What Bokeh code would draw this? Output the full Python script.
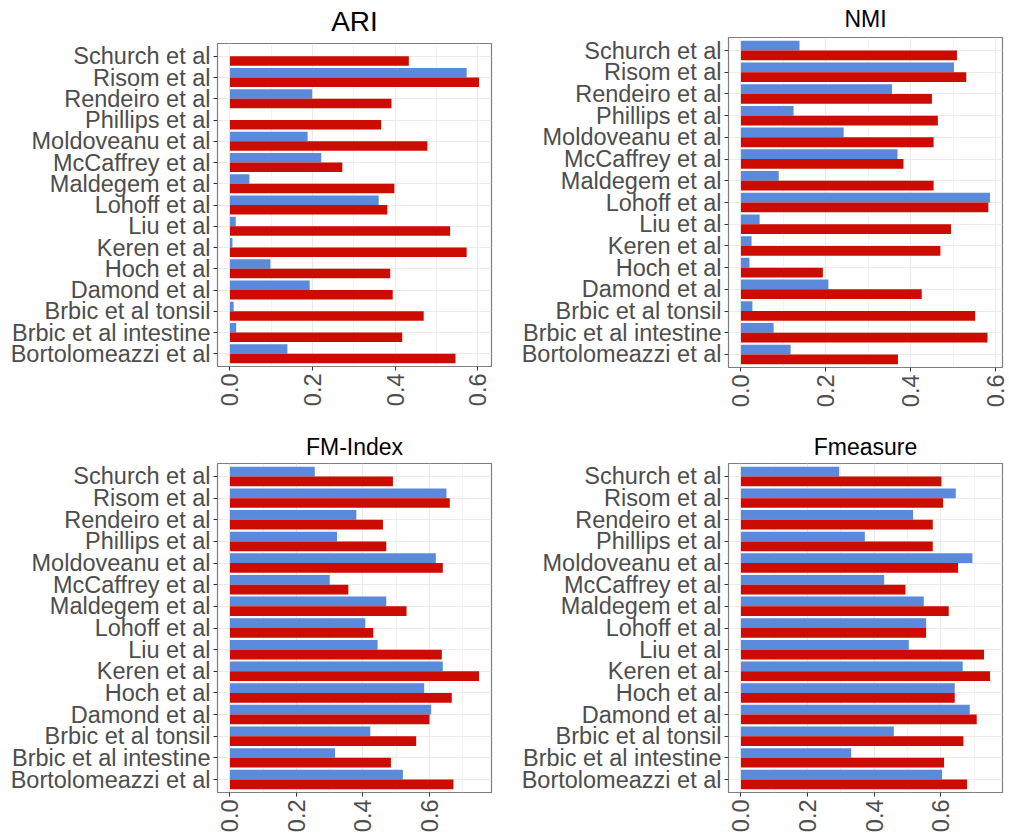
import math
from bokeh.plotting import figure
from bokeh.layouts import column, row
from bokeh.models import (ColumnDataSource, FactorRange, Range1d, FixedTicker,
                          NumeralTickFormatter, Title)
from bokeh.transform import dodge
from bokeh.embed import file_html
from bokeh.resources import INLINE

studies = ["Bortolomeazzi et al", "Brbic et al intestine", "Brbic et al tonsil",
           "Damond et al", "Hoch et al", "Keren et al", "Liu et al", "Lohoff et al",
           "Maldegem et al", "McCaffrey et al", "Moldoveanu et al", "Phillips et al",
           "Rendeiro et al", "Risom et al", "Schurch et al"]

ari_a = [0.139, 0.015, 0.009, 0.193, 0.098, 0.006, 0.014, 0.360, 0.047, 0.221,
         0.188, 0.0, 0.199, 0.573, 0.0]
ari_b = [0.546, 0.417, 0.469, 0.394, 0.388, 0.573, 0.533, 0.381, 0.398, 0.272,
         0.478, 0.366, 0.391, 0.603, 0.433]

nmi_a = [0.117, 0.077, 0.027, 0.206, 0.020, 0.025, 0.044, 0.587, 0.089, 0.369,
         0.242, 0.124, 0.356, 0.502, 0.138]
nmi_b = [0.370, 0.581, 0.552, 0.426, 0.193, 0.470, 0.495, 0.583, 0.454, 0.383,
         0.454, 0.464, 0.450, 0.531, 0.509]

fm_a = [0.520, 0.316, 0.422, 0.605, 0.584, 0.640, 0.444, 0.407, 0.470, 0.300,
        0.619, 0.322, 0.380, 0.651, 0.255]
fm_b = [0.672, 0.484, 0.560, 0.600, 0.667, 0.749, 0.637, 0.431, 0.531, 0.356,
        0.640, 0.470, 0.460, 0.661, 0.490]

fmeasure_a = [0.604, 0.331, 0.459, 0.687, 0.642, 0.666, 0.504, 0.556, 0.549, 0.430,
              0.695, 0.372, 0.517, 0.645, 0.295]
fmeasure_b = [0.679, 0.610, 0.668, 0.708, 0.642, 0.748, 0.730, 0.556, 0.624, 0.494,
              0.652, 0.576, 0.576, 0.607, 0.602]

x_ticks = [0.0, 0.2, 0.4, 0.6]
x_minor = [0.1, 0.3, 0.5, 0.7]

BLUE = "#5B89DB"
RED = "#CC0C00"
FONT = "Liberation Sans"


def panel(title, a, b, width, height, borders, title_size, title_gap):
    left, right, top, bottom = borders
    src = ColumnDataSource(dict(study=studies, a=a, b=b))
    m = max(max(a), max(b))
    yr = FactorRange(factors=studies, range_padding=0.1, range_padding_units="absolute")
    p = figure(width=width, height=height, y_range=yr,
               x_range=Range1d(-0.05 * m, 1.05 * m),
               output_backend="svg", toolbar_location=None, tools="",
               min_border_left=left, min_border_right=right,
               min_border_top=top, min_border_bottom=bottom)
    p.hbar(y=dodge("study", 0.225, range=p.y_range), left=0, right="a", height=0.45,
           source=src, fill_color=BLUE, line_color=None)
    p.hbar(y=dodge("study", -0.225, range=p.y_range), left=0, right="b", height=0.45,
           source=src, fill_color=RED, line_color=None)

    p.title = Title(text=title, align="center", text_font=FONT,
                    text_font_size=title_size, text_font_style="normal",
                    text_color="black", standoff=0)
    # thin blank strip between the frame and the title to lift the title a little
    p.add_layout(Title(text=" ", text_font_size="1px", standoff=title_gap), "above")

    p.outline_line_color = "#7F7F7F"
    p.outline_line_width = 1.2
    p.background_fill_color = "white"
    p.border_fill_color = "white"

    p.xaxis.ticker = FixedTicker(ticks=x_ticks, minor_ticks=x_minor)
    p.xaxis.formatter = NumeralTickFormatter(format="0.0")
    p.xaxis.major_label_orientation = math.pi / 2
    for ax in (p.xaxis[0], p.yaxis[0]):
        ax.axis_line_color = None
        ax.major_tick_in = 0
        ax.major_tick_out = 4
        ax.major_tick_line_color = "#333333"
        ax.minor_tick_line_color = None
        ax.major_label_text_font = FONT
        ax.major_label_text_font_size = "23.5px"
        ax.major_label_text_color = "#4D4D4D"
        ax.major_label_standoff = 3

    p.xgrid.grid_line_color = "#EBEBEB"
    p.xgrid.grid_line_width = 1.1
    p.xgrid.minor_grid_line_color = "#EBEBEB"
    p.xgrid.minor_grid_line_width = 0.6
    p.ygrid.grid_line_color = "#EBEBEB"
    p.ygrid.grid_line_width = 1.1
    return p


p1 = panel("ARI", ari_a, ari_b, 500, 420, (217, 9, 43, 54), "28px", 4)
p2 = panel("NMI", nmi_a, nmi_b, 509, 420, (228, 7, 37, 53), "23px", 3)
p3 = panel("FM-Index", fm_a, fm_b, 500, 416, (217, 9, 43, 44), "23px", 1)
p4 = panel("Fmeasure", fmeasure_a, fmeasure_b, 509, 416, (228, 7, 43, 44), "23px", 1)

# each panel sits in its own column so frames are laid out independently
layout = column(
    row(column(p1), column(p2), spacing=0),
    row(column(p3), column(p4), spacing=0),
    spacing=0,
)

with open("out.html", "w") as f:
    f.write(file_html(layout, INLINE))
